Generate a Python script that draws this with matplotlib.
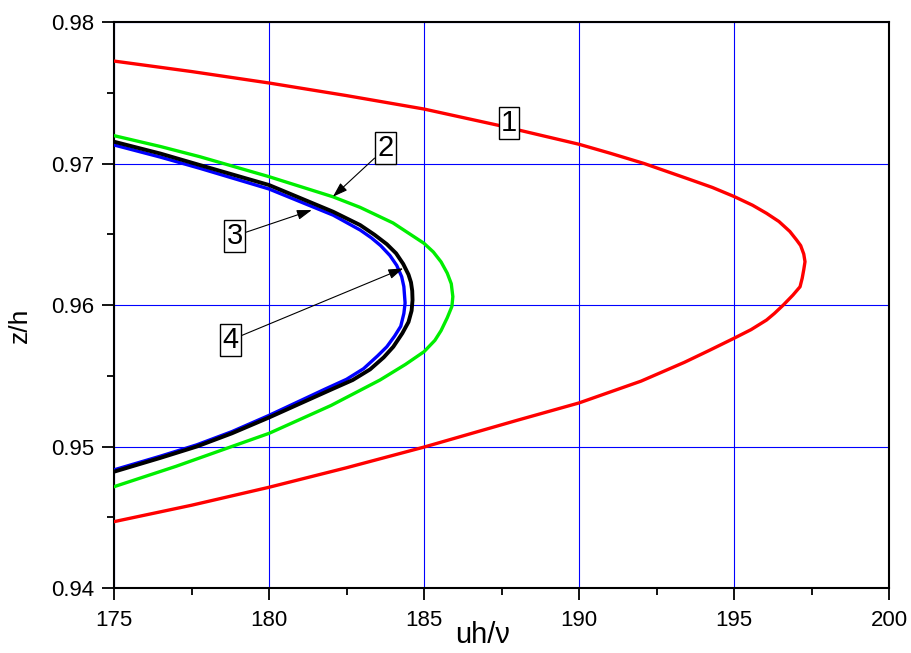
import numpy as np
import matplotlib
matplotlib.use('Agg')
import matplotlib.pyplot as plt
from matplotlib.ticker import MultipleLocator

plt.rcParams['font.family'] = ['Liberation Sans', 'DejaVu Sans']

# curve 1 (red)
x1 = [175.0, 177.5, 180.0, 182.5, 185.0, 187.5, 190.0, 191.0, 192.1, 193.5, 194.3, 195.0,
      195.6, 196.05, 196.45, 196.8, 197.02, 197.15, 197.25, 197.29, 197.25, 197.2, 197.13,
      196.9, 196.59, 196.3, 196.05, 195.55, 195.0, 194.2, 193.4, 192.0, 190.0, 188.0,
      185.0, 182.5, 180.0, 177.5, 175.0]
z1 = [0.97724, 0.97650, 0.97569, 0.97480, 0.97385, 0.97265, 0.97136, 0.97073, 0.97000, 0.96893,
      0.96831, 0.96767, 0.96705, 0.96648, 0.96590, 0.96520, 0.96459, 0.96420, 0.96360, 0.96306,
      0.96250, 0.96190, 0.96129, 0.96070, 0.96000, 0.95940, 0.95894, 0.95826, 0.95765, 0.95679,
      0.95595, 0.95462, 0.95308, 0.95185, 0.94996, 0.94850, 0.94712, 0.94585, 0.94469]

# curve 2 (green)
x2 = [175.0, 176.5, 177.77, 180.0, 182.06, 182.94, 184.0, 185.0, 185.3, 185.55, 185.75,
      185.88, 185.93, 185.9, 185.75, 185.55, 185.35, 185.0, 184.4, 183.58, 182.0, 180.0,
      178.8, 177.0, 175.0]
z2 = [0.97197, 0.97120, 0.97048, 0.96907, 0.96765, 0.96690, 0.96580, 0.96436, 0.96375, 0.96305,
      0.96225, 0.96150, 0.96059, 0.95990, 0.95910, 0.95819, 0.95750, 0.95670, 0.95580, 0.95470,
      0.95290, 0.95093, 0.95000, 0.94860, 0.94716]

# curve 3 (black)
x3 = [175.0, 176.5, 177.77, 180.0, 182.07, 182.94, 183.4, 183.8, 184.1, 184.33, 184.5,
      184.58, 184.62, 184.63, 184.6, 184.5, 184.3, 184.01, 183.7, 183.26, 182.7, 182.0, 180.0,
      178.8, 177.67, 176.5, 175.0]
z3 = [0.97154, 0.97070, 0.96989, 0.96848, 0.96659, 0.96565, 0.96497, 0.96430, 0.96365, 0.96290,
      0.96215, 0.96160, 0.96100, 0.96035, 0.95960, 0.95880, 0.95800, 0.95705, 0.95630, 0.95545,
      0.95470, 0.95402, 0.95205, 0.95093, 0.95000, 0.94920, 0.94822]

# curve 4 (blue)
x4 = [175.0, 176.5, 177.77, 180.0, 182.07, 182.94, 183.3, 183.6, 183.9, 184.12, 184.28,
      184.35, 184.39, 184.35, 184.25, 184.05, 183.80, 183.5, 183.05, 182.5, 181.8, 180.0,
      178.8, 177.67, 176.5, 175.0]
z4 = [0.97131, 0.97045, 0.96966, 0.96820, 0.96635, 0.96530, 0.96475, 0.96420, 0.96350, 0.96280,
      0.96200, 0.96130, 0.96014, 0.95940, 0.95850, 0.95780, 0.95705, 0.95640, 0.95550, 0.95475,
      0.95405, 0.95220, 0.95105, 0.95012, 0.94932, 0.94835]

labels = ['1', '2', '3', '4']
label_pos = [(187.74, 0.97286), (183.76, 0.97110), (178.90, 0.96488), (178.77, 0.95753)]
arrow_to = [None, (182.06, 0.96765), (181.38, 0.96671), (184.33, 0.96259)]

fig = plt.figure(figsize=(9.12, 6.53), dpi=100)
ax = fig.add_axes([0.125, 0.0995, 0.8498, 0.8668])

ax.plot(x1, z1, color='#ff0000', lw=2.4, zorder=3, solid_joinstyle='round')
ax.plot(x2, z2, color='#00ee00', lw=2.4, zorder=3, solid_joinstyle='round')
ax.plot(x4, z4, color='#0000ff', lw=2.4, zorder=3, solid_joinstyle='round')
ax.plot(x3, z3, color='black', lw=2.8, zorder=4, solid_joinstyle='round')

for lab, pos, tgt in zip(labels, label_pos, arrow_to):
    bbox = dict(boxstyle='square,pad=0.08', fc='white', ec='black', lw=1.0)
    if tgt is None:
        ax.text(pos[0], pos[1], lab, fontsize=21, ha='center', va='center', bbox=bbox, zorder=6)
    else:
        ax.annotate(lab, xy=tgt, xytext=pos, fontsize=21, ha='center', va='center',
                    bbox=bbox, zorder=6,
                    arrowprops=dict(arrowstyle='-|>,head_length=0.9,head_width=0.3',
                                    mutation_scale=10, color='black', lw=0.8,
                                    shrinkA=0, shrinkB=0))

ax.set_xlim(175, 200)
ax.set_ylim(0.94, 0.98)
ax.xaxis.set_major_locator(MultipleLocator(5))
ax.xaxis.set_minor_locator(MultipleLocator(2.5))
ax.yaxis.set_minor_locator(MultipleLocator(0.005))
ax.set_yticks([0.94, 0.95, 0.96, 0.97, 0.98])
ax.set_yticklabels(['0.94', '0.95', '0.96', '0.97', '0.98'])

ax.grid(True, which='major', color='#0000ff', lw=0.8)
ax.set_axisbelow(True)

ax.tick_params(which='major', direction='out', length=8.5, width=1.3, labelsize=16)
ax.tick_params(axis='x', which='major', pad=7)
ax.tick_params(axis='y', which='major', pad=6)
ax.tick_params(which='minor', direction='out', length=4.8, width=1.3)
ax.tick_params(top=False, right=False)
for s in ax.spines.values():
    s.set_linewidth(1.5)

ax.set_xlabel('uh/\u03bd', fontsize=21)
ax.xaxis.set_label_coords(0.476, -0.058)
ax.set_ylabel('z/h', fontsize=19)
ax.yaxis.set_label_coords(-0.106, 0.465)

fig.savefig('out.png', dpi=100)
